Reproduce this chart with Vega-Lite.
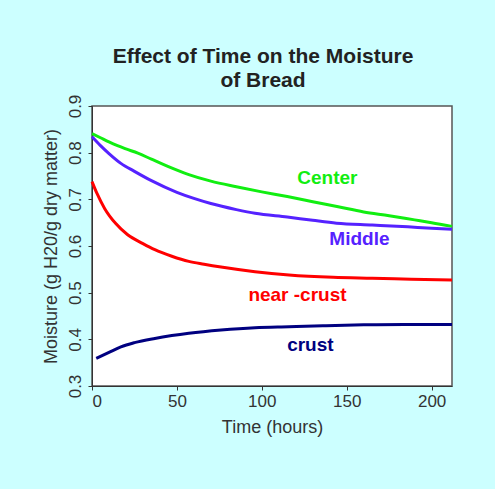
{
  "$schema": "https://vega.github.io/schema/vega-lite/v6.json",
  "width": 360,
  "height": 280,
  "autosize": {"type": "none"},
  "padding": {"left": 92, "top": 106, "right": 43, "bottom": 103},
  "background": "#CCFFFF",
  "title": {
    "text": ["Effect of Time on the Moisture", "of Bread"],
    "font": "Liberation Sans",
    "fontSize": 21,
    "fontWeight": "bold",
    "color": "#222222",
    "anchor": "middle",
    "dx": -9,
    "offset": 3,
    "lineHeight": 24
  },
  "config": {
    "view": {"fill": "white", "stroke": "#555555", "strokeWidth": 1.5},
    "axis": {
      "labelFont": "Liberation Sans",
      "titleFont": "Liberation Sans",
      "labelColor": "#333333",
      "titleColor": "#333333",
      "labelFontSize": 17,
      "titleFontSize": 18,
      "titleFontWeight": "normal",
      "domainColor": "#333333",
      "tickColor": "#333333",
      "tickSize": 4,
      "grid": false
    }
  },
  "datasets": {
    "curves": [
      {"series": "Center", "time": 0, "moisture": 0.841},
      {"series": "Center", "time": 5, "moisture": 0.832},
      {"series": "Center", "time": 10, "moisture": 0.823},
      {"series": "Center", "time": 15, "moisture": 0.815},
      {"series": "Center", "time": 20, "moisture": 0.808},
      {"series": "Center", "time": 27, "moisture": 0.799},
      {"series": "Center", "time": 35, "moisture": 0.786},
      {"series": "Center", "time": 45, "moisture": 0.770},
      {"series": "Center", "time": 57, "moisture": 0.753},
      {"series": "Center", "time": 70, "moisture": 0.739},
      {"series": "Center", "time": 85, "moisture": 0.727},
      {"series": "Center", "time": 100, "moisture": 0.716},
      {"series": "Center", "time": 115, "moisture": 0.706},
      {"series": "Center", "time": 130, "moisture": 0.695},
      {"series": "Center", "time": 145, "moisture": 0.684},
      {"series": "Center", "time": 160, "moisture": 0.673},
      {"series": "Center", "time": 175, "moisture": 0.665},
      {"series": "Center", "time": 190, "moisture": 0.656},
      {"series": "Center", "time": 200, "moisture": 0.650},
      {"series": "Center", "time": 212, "moisture": 0.642},
      {"series": "Middle", "time": 0, "moisture": 0.834},
      {"series": "Middle", "time": 5, "moisture": 0.815},
      {"series": "Middle", "time": 10, "moisture": 0.798},
      {"series": "Middle", "time": 17, "moisture": 0.777},
      {"series": "Middle", "time": 25, "moisture": 0.760},
      {"series": "Middle", "time": 35, "moisture": 0.740},
      {"series": "Middle", "time": 50, "moisture": 0.715},
      {"series": "Middle", "time": 60, "moisture": 0.702},
      {"series": "Middle", "time": 70, "moisture": 0.691},
      {"series": "Middle", "time": 85, "moisture": 0.678},
      {"series": "Middle", "time": 96, "moisture": 0.670},
      {"series": "Middle", "time": 115, "moisture": 0.662},
      {"series": "Middle", "time": 130, "moisture": 0.655},
      {"series": "Middle", "time": 144, "moisture": 0.649},
      {"series": "Middle", "time": 165, "moisture": 0.645},
      {"series": "Middle", "time": 186, "moisture": 0.641},
      {"series": "Middle", "time": 200, "moisture": 0.638},
      {"series": "Middle", "time": 212, "moisture": 0.636},
      {"series": "near -crust", "time": 0, "moisture": 0.738},
      {"series": "near -crust", "time": 3, "moisture": 0.712},
      {"series": "near -crust", "time": 7.5, "moisture": 0.680},
      {"series": "near -crust", "time": 14, "moisture": 0.648},
      {"series": "near -crust", "time": 21, "moisture": 0.624},
      {"series": "near -crust", "time": 30, "moisture": 0.605},
      {"series": "near -crust", "time": 37, "moisture": 0.592},
      {"series": "near -crust", "time": 47, "moisture": 0.578},
      {"series": "near -crust", "time": 57, "moisture": 0.567},
      {"series": "near -crust", "time": 66, "moisture": 0.561},
      {"series": "near -crust", "time": 76, "moisture": 0.555},
      {"series": "near -crust", "time": 96, "moisture": 0.545},
      {"series": "near -crust", "time": 116, "moisture": 0.538},
      {"series": "near -crust", "time": 142, "moisture": 0.533},
      {"series": "near -crust", "time": 165, "moisture": 0.531},
      {"series": "near -crust", "time": 188, "moisture": 0.529},
      {"series": "near -crust", "time": 212, "moisture": 0.527},
      {"series": "crust", "time": 2.5, "moisture": 0.359},
      {"series": "crust", "time": 10, "moisture": 0.372},
      {"series": "crust", "time": 17, "moisture": 0.384},
      {"series": "crust", "time": 25, "moisture": 0.393},
      {"series": "crust", "time": 37, "moisture": 0.402},
      {"series": "crust", "time": 47, "moisture": 0.408},
      {"series": "crust", "time": 57, "moisture": 0.413},
      {"series": "crust", "time": 76, "moisture": 0.420},
      {"series": "crust", "time": 96, "moisture": 0.425},
      {"series": "crust", "time": 116, "moisture": 0.427},
      {"series": "crust", "time": 136, "moisture": 0.429},
      {"series": "crust", "time": 160, "moisture": 0.431},
      {"series": "crust", "time": 184, "moisture": 0.432},
      {"series": "crust", "time": 212, "moisture": 0.432}
    ],
    "labels": [
      {"series": "Center", "label": "Center", "time": 138.6, "moisture": 0.746},
      {"series": "Middle", "label": "Middle", "time": 157.5, "moisture": 0.615},
      {"series": "near -crust", "label": "near -crust", "time": 121, "moisture": 0.495},
      {"series": "crust", "label": "crust", "time": 128.6, "moisture": 0.388}
    ]
  },
  "layer": [
    {
      "data": {"name": "curves"},
      "mark": {"type": "line", "strokeWidth": 3, "interpolate": "monotone"},
      "encoding": {
        "x": {
          "field": "time",
          "type": "quantitative",
          "scale": {"domain": [0, 212], "nice": false, "zero": false},
          "axis": {"title": "Time (hours)", "values": [0, 50, 100, 150, 200], "labelPadding": 3, "titlePadding": 9}
        },
        "y": {
          "field": "moisture",
          "type": "quantitative",
          "scale": {"domain": [0.3, 0.9], "nice": false, "zero": false},
          "axis": {
            "title": "Moisture (g H20/g dry matter)",
            "values": [0.3, 0.4, 0.5, 0.6, 0.7, 0.8, 0.9],
            "format": ".1f",
            "labelAngle": -90,
            "labelPadding": 4,
            "titlePadding": 6
          }
        },
        "color": {
          "field": "series",
          "type": "nominal",
          "scale": {
            "domain": ["Center", "Middle", "near -crust", "crust"],
            "range": ["#11EE11", "#5522FF", "#FF0000", "#000080"]
          },
          "legend": null
        },
        "detail": {"field": "series"}
      }
    },
    {
      "data": {"name": "labels"},
      "mark": {"type": "text", "font": "Liberation Sans", "fontSize": 19, "fontWeight": "bold"},
      "encoding": {
        "x": {"field": "time", "type": "quantitative"},
        "y": {"field": "moisture", "type": "quantitative"},
        "text": {"field": "label"},
        "color": {"field": "series", "type": "nominal", "legend": null}
      }
    }
  ]
}
